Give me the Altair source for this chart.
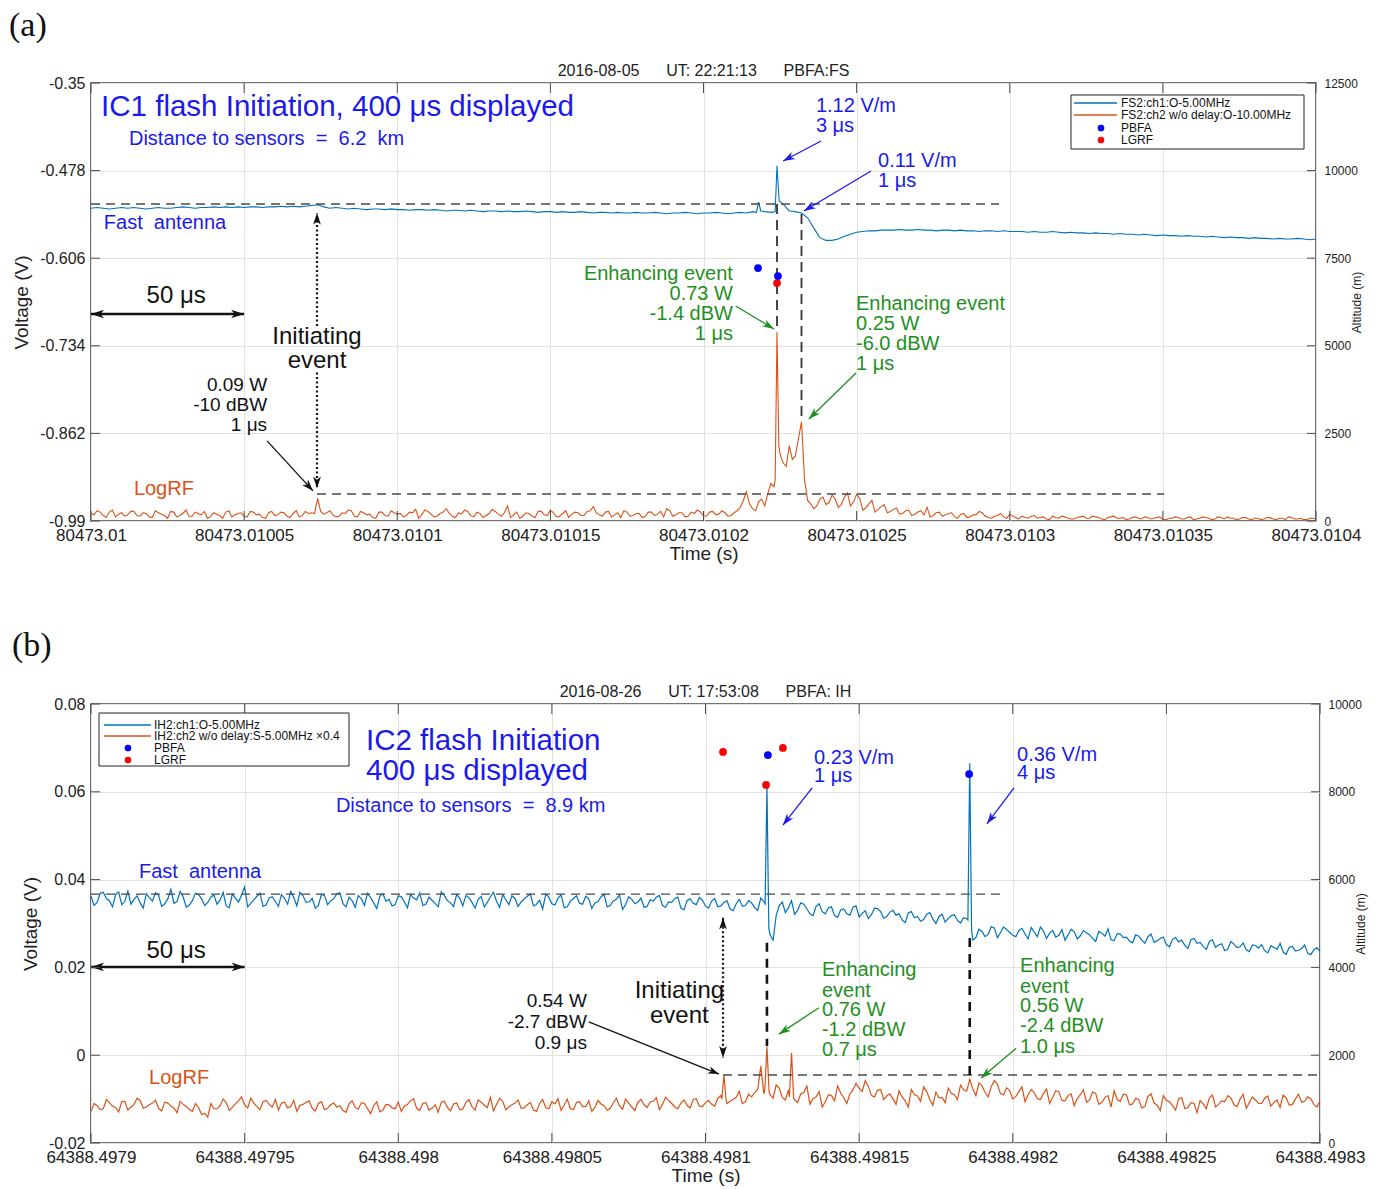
import json, math
import altair as alt
import pandas as pd

FONT = "Liberation Sans"
C_FA = "#0072BD"
C_RF = "#D95319"
C_BLUE = "#1a1aee"
C_GREEN = "#1f8f1f"
C_BLACK = "#111111"
AXC = "#222222"
FRAME = "#4a4a4a"
ARROW = "M0,0L0.6,1.8L0,1.3L-0.6,1.8Z"
NB = "\u00a0"

T_EVEN = list(range(0, 401, 2))
T_ODD = list(range(1, 400, 2))
X_TICKS = [0, 50, 100, 150, 200, 250, 300, 350, 400]

# ---------------- Panel (a) data ----------------
A_XLABELS = ["80473.01", "80473.01005", "80473.0101", "80473.01015", "80473.0102",
             "80473.01025", "80473.0103", "80473.01035", "80473.0104"]
A_VTICKS = [-0.99, -0.862, -0.734, -0.606, -0.478, -0.35]
A_ATICKS = [0, 2500, 5000, 7500, 10000, 12500]
A_FA = [
    -0.533, -0.532, -0.533, -0.534, -0.533, -0.532, -0.533, -0.532, -0.533, -0.534, -0.533,
    -0.532, -0.533, -0.533, -0.532, -0.531, -0.532, -0.533, -0.532, -0.532, -0.531,
    -0.532, -0.531, -0.532, -0.531, -0.532, -0.531, -0.531, -0.532, -0.531, -0.531,
    -0.530, -0.531, -0.530, -0.531, -0.530, -0.529, -0.528, -0.531, -0.533, -0.532,
    -0.533, -0.534, -0.533, -0.534, -0.535, -0.534, -0.534, -0.535, -0.534, -0.535,
    -0.535, -0.536, -0.535, -0.535, -0.536, -0.535, -0.536, -0.537, -0.536, -0.536,
    -0.537, -0.536, -0.537, -0.538, -0.537, -0.537, -0.538, -0.537, -0.538, -0.538,
    -0.537, -0.538, -0.539, -0.538, -0.538, -0.539, -0.538, -0.539, -0.539, -0.538,
    -0.539, -0.540, -0.539, -0.539, -0.540, -0.539, -0.540, -0.540, -0.539, -0.540,
    -0.540, -0.539, -0.540, -0.541, -0.540, -0.540, -0.539, -0.540, -0.541, -0.540,
    -0.540, -0.539, -0.540, -0.541, -0.540, -0.539, -0.540, -0.538, -0.524, -0.538,
    -0.539, -0.471, -0.527, -0.537, -0.538, -0.540, -0.547, -0.562, -0.576, -0.580,
    -0.580, -0.578, -0.574, -0.571, -0.568, -0.567, -0.566, -0.566, -0.565, -0.565,
    -0.565, -0.564, -0.565, -0.565, -0.564, -0.565, -0.565, -0.566, -0.565, -0.565,
    -0.566, -0.565, -0.566, -0.566, -0.567, -0.566, -0.566, -0.567, -0.566, -0.567,
    -0.567, -0.567, -0.568, -0.567, -0.568, -0.568, -0.567, -0.568, -0.569, -0.568,
    -0.569, -0.569, -0.570, -0.569, -0.570, -0.570, -0.571, -0.570, -0.571, -0.571,
    -0.572, -0.571, -0.572, -0.573, -0.572, -0.573, -0.573, -0.574, -0.573, -0.574,
    -0.574, -0.575, -0.574, -0.575, -0.576, -0.575, -0.576, -0.576, -0.577, -0.576,
    -0.577, -0.577, -0.578, -0.577, -0.578, -0.578, -0.577, -0.578, -0.579, -0.578,
]
A_FA_XT = [217.3, 218.7, 223.4, 224.7]
A_FA_XV = [-0.539, -0.537, -0.538, -0.522]
A_RF = [
    -0.979, -0.975, -0.982, -0.977, -0.984, -0.978, -0.981, -0.976, -0.983, -0.979, -0.985,
    -0.978, -0.982, -0.976, -0.984, -0.979, -0.983, -0.977, -0.981, -0.986, -0.978,
    -0.982, -0.977, -0.984, -0.979, -0.983, -0.976, -0.981, -0.985, -0.978, -0.982,
    -0.977, -0.983, -0.979, -0.984, -0.976, -0.978, -0.957, -0.980, -0.975, -0.984,
    -0.978, -0.974, -0.983, -0.976, -0.981, -0.985, -0.977, -0.982, -0.975, -0.980,
    -0.984, -0.977, -0.973, -0.981, -0.976, -0.984, -0.979, -0.972, -0.983, -0.978,
    -0.974, -0.982, -0.977, -0.985, -0.979, -0.976, -0.983, -0.968, -0.981, -0.986,
    -0.978, -0.983, -0.976, -0.981, -0.974, -0.984, -0.979, -0.985, -0.977, -0.982,
    -0.976, -0.969, -0.981, -0.977, -0.984, -0.978, -0.975, -0.983, -0.979, -0.985,
    -0.977, -0.982, -0.976, -0.972, -0.983, -0.978, -0.984, -0.977, -0.974, -0.982,
    -0.977, -0.981, -0.975, -0.983, -0.978, -0.970, -0.947, -0.972, -0.962, -0.968,
    -0.935, -0.714, -0.905, -0.880, -0.895, -0.845, -0.960, -0.972, -0.958, -0.966,
    -0.952, -0.970, -0.955, -0.968, -0.951, -0.974, -0.965, -0.977, -0.969, -0.978,
    -0.973, -0.980, -0.975, -0.982, -0.977, -0.981, -0.984, -0.978, -0.983, -0.979,
    -0.984, -0.980, -0.985, -0.981, -0.976, -0.983, -0.986, -0.982, -0.984, -0.980,
    -0.985, -0.983, -0.986, -0.982, -0.985, -0.987, -0.983, -0.986, -0.984, -0.987,
    -0.985, -0.983, -0.986, -0.984, -0.987, -0.985, -0.983, -0.986, -0.988, -0.985,
    -0.986, -0.984, -0.987, -0.985, -0.988, -0.986, -0.984, -0.987, -0.985, -0.988,
    -0.986, -0.985, -0.988, -0.984, -0.987, -0.986, -0.988, -0.985, -0.987, -0.986,
    -0.988, -0.985, -0.987, -0.986, -0.988, -0.985, -0.987, -0.988, -0.986, -0.987,
]
A_RF_ODD = [
    -0.981, -0.977, -0.985, -0.974, -0.980, -0.983, -0.976, -0.982, -0.978, -0.984,
    -0.975, -0.980, -0.986, -0.977, -0.982, -0.974, -0.983, -0.979, -0.976, -0.984,
    -0.980, -0.986, -0.975, -0.981, -0.978, -0.984, -0.977, -0.980, -0.986, -0.976,
    -0.981, -0.978, -0.985, -0.975, -0.982, -0.979, -0.979, -0.976, -0.978, -0.981,
    -0.983, -0.979, -0.975, -0.984, -0.978, -0.980, -0.986, -0.977, -0.983, -0.978,
    -0.979, -0.982, -0.978, -0.986, -0.974, -0.980, -0.983, -0.977, -0.979, -0.985,
    -0.980, -0.976, -0.984, -0.979, -0.982, -0.973, -0.980, -0.978, -0.985, -0.977,
    -0.983, -0.979, -0.985, -0.976, -0.982, -0.978, -0.983, -0.975, -0.980, -0.978,
    -0.982, -0.975, -0.978, -0.983, -0.976, -0.981, -0.985, -0.977, -0.982, -0.979,
    -0.983, -0.977, -0.980, -0.984, -0.975, -0.981, -0.978, -0.983, -0.979, -0.977,
    -0.983, -0.976, -0.980, -0.978, -0.982, -0.975, -0.960, -0.965, -0.975, -0.958,
    -0.950, -0.940, -0.892, -0.910, -0.900, -0.870, -0.930, -0.965, -0.968, -0.955,
    -0.963, -0.958, -0.966, -0.949, -0.962, -0.957, -0.971, -0.960, -0.973, -0.966,
    -0.976, -0.971, -0.979, -0.974, -0.980, -0.975, -0.970, -0.982, -0.977, -0.981,
    -0.978, -0.986, -0.979, -0.984, -0.981, -0.978, -0.985, -0.983, -0.979, -0.986,
    -0.983, -0.987, -0.985, -0.983, -0.986, -0.984, -0.988, -0.985, -0.983, -0.986,
    -0.987, -0.984, -0.986, -0.983, -0.985, -0.988, -0.984, -0.986, -0.985, -0.987,
    -0.984, -0.987, -0.985, -0.986, -0.984, -0.988, -0.986, -0.985, -0.987, -0.984,
    -0.987, -0.984, -0.986, -0.987, -0.985, -0.984, -0.986, -0.987, -0.985, -0.988,
    -0.986, -0.987, -0.985, -0.988, -0.986, -0.984, -0.987, -0.986, -0.988, -0.986,
]
A_RF_XT = [223.4, 224.6]
A_RF_XV = [-0.930, -0.880]
A_PT_T = [224.0, 217.8, 224.3]
A_PT_ALT = [6790, 7220, 6990]
A_PT_KIND = ["LGRF", "PBFA", "PBFA"]

# ---------------- Panel (b) data ----------------
B_XLABELS = ["64388.4979", "64388.49795", "64388.498", "64388.49805", "64388.4981",
             "64388.49815", "64388.4982", "64388.49825", "64388.4983"]
B_VTICKS = [-0.02, 0.0, 0.02, 0.04, 0.06, 0.08]
B_ATICKS = [0, 2000, 4000, 6000, 8000, 10000]
B_FA = [
    0.0362, 0.0348, 0.0371, 0.0352, 0.0366, 0.0343, 0.0374, 0.0355, 0.0347, 0.0368, 0.0351,
    0.0364, 0.0345, 0.0378, 0.0350, 0.0361, 0.0342, 0.0369, 0.0356, 0.0348, 0.0365,
    0.0353, 0.0340, 0.0367, 0.0349, 0.0383, 0.0346, 0.0362, 0.0339, 0.0358, 0.0350,
    0.0366, 0.0344, 0.0359, 0.0371, 0.0348, 0.0357, 0.0341, 0.0364, 0.0352, 0.0368,
    0.0345, 0.0360, 0.0337, 0.0356, 0.0369, 0.0347, 0.0362, 0.0351, 0.0340, 0.0363,
    0.0349, 0.0366, 0.0354, 0.0341, 0.0360, 0.0346, 0.0372, 0.0352, 0.0339, 0.0358,
    0.0364, 0.0348, 0.0355, 0.0338, 0.0361, 0.0350, 0.0366, 0.0343, 0.0357, 0.0349,
    0.0362, 0.0340, 0.0353, 0.0367, 0.0345, 0.0358, 0.0336, 0.0351, 0.0363, 0.0344,
    0.0356, 0.0347, 0.0361, 0.0338, 0.0352, 0.0365, 0.0343, 0.0355, 0.0349, 0.0337,
    0.0354, 0.0360, 0.0341, 0.0349, 0.0357, 0.0335, 0.0352, 0.0346, 0.0359, 0.0340,
    0.0351, 0.0338, 0.0348, 0.0333, 0.0345, 0.0339, 0.0352, 0.0336, 0.0358, 0.0612,
    0.0262, 0.0341, 0.0325, 0.0352, 0.0330, 0.0344, 0.0322, 0.0339, 0.0327, 0.0336,
    0.0318, 0.0331, 0.0322, 0.0337, 0.0315, 0.0329, 0.0320, 0.0334, 0.0312, 0.0326,
    0.0319, 0.0308, 0.0324, 0.0313, 0.0305, 0.0321, 0.0310, 0.0316, 0.0303, 0.0318,
    0.0307, 0.0313, 0.0665, 0.0268, 0.0282, 0.0275, 0.0290, 0.0279, 0.0286, 0.0273,
    0.0284, 0.0276, 0.0291, 0.0270, 0.0283, 0.0278, 0.0269, 0.0286, 0.0274, 0.0281,
    0.0272, 0.0279, 0.0266, 0.0282, 0.0271, 0.0263, 0.0277, 0.0268, 0.0260, 0.0274,
    0.0262, 0.0270, 0.0257, 0.0266, 0.0252, 0.0264, 0.0258, 0.0250, 0.0263, 0.0255,
    0.0248, 0.0259, 0.0246, 0.0254, 0.0242, 0.0253, 0.0247, 0.0240, 0.0251, 0.0244,
    0.0238, 0.0249, 0.0241, 0.0235, 0.0246, 0.0237, 0.0243, 0.0232, 0.0240, 0.0236,
]
B_FA_ODD = [
    0.0341, 0.0369, 0.0357, 0.0338, 0.0372, 0.0350, 0.0344, 0.0363, 0.0335, 0.0359,
    0.0370, 0.0339, 0.0356, 0.0346, 0.0373, 0.0337, 0.0352, 0.0366, 0.0341, 0.0360,
    0.0344, 0.0371, 0.0336, 0.0358, 0.0365, 0.0338, 0.0354, 0.0369, 0.0342, 0.0361,
    0.0339, 0.0357, 0.0373, 0.0340, 0.0363, 0.0349, 0.0335, 0.0366, 0.0343, 0.0356,
    0.0370, 0.0338, 0.0352, 0.0364, 0.0341, 0.0359, 0.0334, 0.0368, 0.0355, 0.0343,
    0.0361, 0.0336, 0.0358, 0.0370, 0.0344, 0.0353, 0.0338, 0.0364, 0.0347, 0.0366,
    0.0340, 0.0359, 0.0335, 0.0362, 0.0348, 0.0371, 0.0337, 0.0354, 0.0363, 0.0339,
    0.0356, 0.0367, 0.0344, 0.0333, 0.0360, 0.0342, 0.0365, 0.0338, 0.0357, 0.0346,
    0.0362, 0.0334, 0.0350, 0.0366, 0.0341, 0.0355, 0.0332, 0.0361, 0.0345, 0.0358,
    0.0339, 0.0351, 0.0364, 0.0337, 0.0348, 0.0360, 0.0331, 0.0356, 0.0343, 0.0353,
    0.0335, 0.0357, 0.0340, 0.0352, 0.0329, 0.0355, 0.0341, 0.0347, 0.0330, 0.0350,
    0.0275, 0.0318, 0.0349, 0.0336, 0.0321, 0.0347, 0.0333, 0.0318, 0.0345, 0.0322,
    0.0338, 0.0314, 0.0333, 0.0319, 0.0340, 0.0323, 0.0311, 0.0335, 0.0327, 0.0316,
    0.0330, 0.0322, 0.0302, 0.0327, 0.0316, 0.0309, 0.0325, 0.0300, 0.0321, 0.0311,
    0.0320, 0.0301, 0.0311, 0.0262, 0.0287, 0.0270, 0.0293, 0.0268, 0.0292, 0.0280,
    0.0270, 0.0289, 0.0265, 0.0280, 0.0292, 0.0266, 0.0284, 0.0273, 0.0262, 0.0287,
    0.0265, 0.0284, 0.0274, 0.0259, 0.0278, 0.0288, 0.0261, 0.0276, 0.0269, 0.0256,
    0.0271, 0.0255, 0.0276, 0.0261, 0.0269, 0.0247, 0.0268, 0.0262, 0.0243, 0.0266,
    0.0257, 0.0241, 0.0263, 0.0251, 0.0238, 0.0259, 0.0245, 0.0256, 0.0236, 0.0250,
    0.0252, 0.0233, 0.0246, 0.0255, 0.0230, 0.0248, 0.0239, 0.0251, 0.0229, 0.0245,
]
B_FA_XT = [219.4, 220.6, 285.4, 286.6]
B_FA_XV = [0.0345, 0.0290, 0.0308, 0.0285]
B_RF = [
    -0.0128, -0.0115, -0.0122, -0.0108, -0.0119, -0.0106, -0.0125, -0.0112, -0.0103, -0.0118, -0.0109,
    -0.0121, -0.0107, -0.0116, -0.0131, -0.0112, -0.0124, -0.0110, -0.0135, -0.0141, -0.0122,
    -0.0115, -0.0108, -0.0119, -0.0104, -0.0113, -0.0098, -0.0117, -0.0106, -0.0112, -0.0101,
    -0.0109, -0.0120, -0.0103, -0.0114, -0.0107, -0.0121, -0.0110, -0.0124, -0.0113, -0.0118,
    -0.0126, -0.0111, -0.0119, -0.0108, -0.0122, -0.0115, -0.0129, -0.0112, -0.0120, -0.0107,
    -0.0116, -0.0104, -0.0121, -0.0110, -0.0125, -0.0113, -0.0107, -0.0119, -0.0111, -0.0124,
    -0.0108, -0.0117, -0.0102, -0.0114, -0.0096, -0.0112, -0.0105, -0.0118, -0.0109, -0.0121,
    -0.0113, -0.0125, -0.0110, -0.0119, -0.0106, -0.0099, -0.0114, -0.0122, -0.0108, -0.0117,
    -0.0104, -0.0119, -0.0111, -0.0126, -0.0109, -0.0115, -0.0100, -0.0118, -0.0107, -0.0113,
    -0.0106, -0.0097, -0.0112, -0.0103, -0.0118, -0.0109, -0.0114, -0.0101, -0.0116, -0.0108,
    -0.0112, -0.0098, -0.0045, -0.0105, -0.0096, -0.0110, -0.0089, -0.0085, -0.0025, 0.0020,
    -0.0098, -0.0075, -0.0102, 0.0005, -0.0108, -0.0085, -0.0112, -0.0095, -0.0118, -0.0090,
    -0.0104, -0.0086, -0.0110, -0.0079, -0.0075, -0.0058, -0.0092, -0.0080, -0.0101, -0.0088,
    -0.0112, -0.0095, -0.0118, -0.0090, -0.0105, -0.0083, -0.0114, -0.0097, -0.0108, -0.0087,
    -0.0101, -0.0079, -0.0055, -0.0092, -0.0070, -0.0095, -0.0058, -0.0088, -0.0074, -0.0100,
    -0.0083, -0.0106, -0.0078, -0.0099, -0.0087, -0.0110, -0.0081, -0.0103, -0.0092, -0.0115,
    -0.0090, -0.0107, -0.0084, -0.0112, -0.0096, -0.0118, -0.0101, -0.0089, -0.0113, -0.0098,
    -0.0120, -0.0094, -0.0109, -0.0126, -0.0103, -0.0115, -0.0099, -0.0122, -0.0108, -0.0131,
    -0.0111, -0.0097, -0.0118, -0.0104, -0.0092, -0.0113, -0.0100, -0.0121, -0.0095, -0.0110,
    -0.0098, -0.0116, -0.0102, -0.0091, -0.0114, -0.0100, -0.0107, -0.0095, -0.0112, -0.0104,
]
B_RF_ODD = [
    -0.0110, -0.0124, -0.0101, -0.0116, -0.0129, -0.0105, -0.0118, -0.0098, -0.0121, -0.0113,
    -0.0102, -0.0127, -0.0109, -0.0120, -0.0105, -0.0117, -0.0128, -0.0119, -0.0132, -0.0110,
    -0.0122, -0.0100, -0.0126, -0.0111, -0.0095, -0.0120, -0.0109, -0.0124, -0.0103, -0.0118,
    -0.0125, -0.0107, -0.0117, -0.0128, -0.0112, -0.0104, -0.0127, -0.0106, -0.0121, -0.0109,
    -0.0115, -0.0130, -0.0104, -0.0123, -0.0110, -0.0133, -0.0106, -0.0125, -0.0113, -0.0122,
    -0.0128, -0.0112, -0.0099, -0.0126, -0.0108, -0.0121, -0.0130, -0.0105, -0.0127, -0.0109,
    -0.0123, -0.0101, -0.0125, -0.0107, -0.0119, -0.0127, -0.0098, -0.0124, -0.0113, -0.0102,
    -0.0120, -0.0108, -0.0128, -0.0101, -0.0122, -0.0111, -0.0126, -0.0100, -0.0124, -0.0106,
    -0.0117, -0.0128, -0.0103, -0.0115, -0.0121, -0.0098, -0.0123, -0.0109, -0.0126, -0.0101,
    -0.0119, -0.0105, -0.0124, -0.0096, -0.0110, -0.0122, -0.0102, -0.0120, -0.0099, -0.0117,
    -0.0103, -0.0116, -0.0092, -0.0110, -0.0101, -0.0082, -0.0106, -0.0095, -0.0078, -0.0088,
    -0.0090, -0.0068, -0.0096, -0.0079, -0.0101, -0.0088, -0.0070, -0.0099, -0.0083, -0.0106,
    -0.0092, -0.0070, -0.0097, -0.0088, -0.0064, -0.0083, -0.0071, -0.0095, -0.0078, -0.0093,
    -0.0099, -0.0081, -0.0104, -0.0078, -0.0093, -0.0072, -0.0101, -0.0084, -0.0096, -0.0075,
    -0.0090, -0.0068, -0.0082, -0.0077, -0.0063, -0.0085, -0.0072, -0.0066, -0.0090, -0.0081,
    -0.0094, -0.0072, -0.0090, -0.0085, -0.0101, -0.0077, -0.0096, -0.0083, -0.0104, -0.0088,
    -0.0099, -0.0079, -0.0102, -0.0087, -0.0108, -0.0092, -0.0081, -0.0105, -0.0090, -0.0111,
    -0.0101, -0.0117, -0.0088, -0.0114, -0.0092, -0.0106, -0.0125, -0.0097, -0.0119, -0.0110,
    -0.0103, -0.0122, -0.0091, -0.0112, -0.0106, -0.0098, -0.0117, -0.0089, -0.0108, -0.0102,
    -0.0110, -0.0093, -0.0108, -0.0119, -0.0097, -0.0112, -0.0089, -0.0105, -0.0099, -0.0118,
]
B_RF_XT = [205.3, 206.7, 219.3, 220.7, 227.3, 228.7]
B_RF_XV = [-0.0100, -0.0102, -0.0080, -0.0085, -0.0095, -0.0098]
B_PT_T = [205.7, 225.2, 219.7, 220.3, 285.8]
B_PT_ALT = [8907, 9000, 8155, 8838, 8405]
B_PT_KIND = ["LGRF", "LGRF", "LGRF", "PBFA", "PBFA"]


def nb(s):
    return s.replace("  ", NB + NB)


# annotation texts: (t, v, text, colour, size, align)
A_TEXTS = [
    (3.3, -0.385, "IC1 flash Initiation, 400 μs displayed", C_BLUE, 29.5, "left"),
    (12.4, -0.4318, "Distance to sensors  =  6.2  km", C_BLUE, 20, "left"),
    (4.2, -0.5546, "Fast  antenna", C_BLUE, 20, "left"),
    (14.0, -0.9432, "LogRF", C_RF, 20, "left"),
    (236.7, -0.3836, "1.12 V/m", C_BLUE, 20, "left"),
    (236.7, -0.4128, "3 μs", C_BLUE, 20, "left"),
    (257.0, -0.464, "0.11 V/m", C_BLUE, 20, "left"),
    (257.0, -0.4932, "1 μs", C_BLUE, 20, "left"),
    (209.6, -0.629, "Enhancing event", C_GREEN, 20, "right"),
    (209.6, -0.6583, "0.73 W", C_GREEN, 20, "right"),
    (209.6, -0.6875, "-1.4 dBW", C_GREEN, 20, "right"),
    (209.6, -0.7167, "1 μs", C_GREEN, 20, "right"),
    (249.8, -0.673, "Enhancing event", C_GREEN, 20, "left"),
    (249.8, -0.702, "0.25 W", C_GREEN, 20, "left"),
    (249.8, -0.7314, "-6.0 dBW", C_GREEN, 20, "left"),
    (249.8, -0.7606, "1 μs", C_GREEN, 20, "left"),
    (57.5, -0.7913, "0.09 W", C_BLACK, 19, "right"),
    (57.5, -0.8205, "-10 dBW", C_BLACK, 19, "right"),
    (57.5, -0.8497, "1 μs", C_BLACK, 19, "right"),
    (73.8, -0.7211, "Initiating", C_BLACK, 24, "center"),
    (73.8, -0.7562, "event", C_BLACK, 24, "center"),
    (27.8, -0.6612, "50 μs", C_BLACK, 24, "center"),
]
B_TEXTS = [
    (89.5, 0.0716, "IC2 flash Initiation", C_BLUE, 29.5, "left"),
    (89.5, 0.0647, "400 μs displayed", C_BLUE, 29.5, "left"),
    (79.7, 0.0568, "Distance to sensors  =  8.9 km", C_BLUE, 20, "left"),
    (15.6, 0.0417, "Fast  antenna", C_BLUE, 20, "left"),
    (18.9, -0.0052, "LogRF", C_RF, 20, "left"),
    (27.7, 0.0237, "50 μs", C_BLACK, 24, "center"),
    (191.5, 0.0146, "Initiating", C_BLACK, 24, "center"),
    (191.5, 0.0089, "event", C_BLACK, 24, "center"),
    (161.4, 0.0123, "0.54 W", C_BLACK, 19, "right"),
    (161.4, 0.0076, "-2.7 dBW", C_BLACK, 19, "right"),
    (161.4, 0.0028, "0.9 μs", C_BLACK, 19, "right"),
    (237.9, 0.0194, "Enhancing", C_GREEN, 20, "left"),
    (237.9, 0.0146, "event", C_GREEN, 20, "left"),
    (237.9, 0.0103, "0.76 W", C_GREEN, 20, "left"),
    (237.9, 0.0057, "-1.2 dBW", C_GREEN, 20, "left"),
    (237.9, 0.0012, "0.7 μs", C_GREEN, 20, "left"),
    (302.4, 0.0203, "Enhancing", C_GREEN, 20, "left"),
    (302.4, 0.0155, "event", C_GREEN, 20, "left"),
    (302.4, 0.0112, "0.56 W", C_GREEN, 20, "left"),
    (302.4, 0.0067, "-2.4 dBW", C_GREEN, 20, "left"),
    (302.4, 0.0019, "1.0 μs", C_GREEN, 20, "left"),
    (235.3, 0.0677, "0.23 V/m", C_BLUE, 20, "left"),
    (235.3, 0.0636, "1 μs", C_BLUE, 20, "left"),
    (301.4, 0.0684, "0.36 V/m", C_BLUE, 20, "left"),
    (301.4, 0.0643, "4 μs", C_BLUE, 20, "left"),
]

# dashed guide lines: (t0, v0, t1, v1, style)
A_DASHES = [
    (0, -0.5268, 296.5, -0.5268, "gray"),
    (73.8, -0.9505, 350.4, -0.9505, "gray"),
    (224.0, -0.5268, 224.0, -0.712, "dark"),
    (232.0, -0.5414, 232.0, -0.844, "dark"),
]
B_DASHES = [
    (0, 0.0367, 296.5, 0.0367, "gray"),
    (205.7, -0.0045, 400, -0.0045, "gray"),
    (220.0, 0.0256, 220.0, 0.0021, "black"),
    (286.0, 0.0267, 286.0, -0.0045, "black"),
]
DASH_STYLES = {
    "gray": dict(color="#4a4a4a", strokeDash=[9, 6], strokeWidth=1.4),
    "dark": dict(color="#333333", strokeDash=[10, 6], strokeWidth=1.8),
    "black": dict(color="#111111", strokeDash=[9, 7], strokeWidth=2.6),
}

# arrows: (t0, v0, t1, v1, colour, style, both_heads, head_size)
A_ARROWS = [
    (238.4, -0.4348, 226.0, -0.464, C_BLUE, "solid", False, 170),
    (254.7, -0.4786, 232.8, -0.537, C_BLUE, "solid", False, 170),
    (210.5, -0.6758, 223.0, -0.7095, C_GREEN, "solid", False, 170),
    (249.8, -0.7737, 234.4, -0.841, C_GREEN, "solid", False, 170),
    (57.5, -0.873, 72.5, -0.946, C_BLACK, "solid", False, 170),
    (73.8, -0.705, 73.8, -0.540, C_BLACK, "dotted", False, 170),
    (73.8, -0.773, 73.8, -0.942, C_BLACK, "dotted", False, 170),
    (0.0, -0.6875, 50.0, -0.6875, C_BLACK, "thick", True, 210),
]
B_ARROWS = [
    (162.0, 0.0076, 204.4, -0.0043, C_BLACK, "solid", False, 150),
    (236.9, 0.0108, 223.9, 0.0048, C_GREEN, "solid", False, 170),
    (301.1, 0.0016, 289.7, -0.0052, C_GREEN, "solid", False, 170),
    (234.7, 0.0609, 225.2, 0.0524, C_BLUE, "solid", False, 170),
    (300.4, 0.0609, 291.6, 0.0527, C_BLUE, "solid", False, 170),
    (205.7, 0.0313, 205.7, -0.0006, C_BLACK, "dotted", True, 170),
    (0.0, 0.0201, 50.0, 0.0201, C_BLACK, "thick", True, 210),
]
ARROW_STYLES = {
    "solid": dict(strokeWidth=1.3),
    "dotted": dict(strokeWidth=2.2, strokeDash=[2, 2.5]),
    "thick": dict(strokeWidth=2.6),
}

A_LEGEND = dict(
    box=(980, 1213, 12, 66),
    lines=[(983, 1026, 20, C_FA), (983, 1026, 32, C_RF)],
    dots=[(1010, 45, "#0000ff"), (1010, 57, "#ff0000")],
    texts=[(1030, 20, "FS2:ch1:O-5.00MHz"), (1030, 32, "FS2:ch2 w/o delay:O-10.00MHz"),
           (1030, 45, "PBFA"), (1030, 57, "LGRF")],
)
B_LEGEND = dict(
    box=(8, 258, 9, 62),
    lines=[(13, 60, 21, C_FA), (13, 60, 32, C_RF)],
    dots=[(37, 44, "#0000ff"), (37, 56, "#ff0000")],
    texts=[(63, 21, "IH2:ch1:O-5.00MHz"), (63, 32, "IH2:ch2 w/o delay:S-5.00MHz ×0.4"),
           (63, 44, "PBFA"), (63, 56, "LGRF")],
)


def line_df(even, odd, xt, xv):
    assert len(even) == len(T_EVEN), len(even)
    rows = list(zip(T_EVEN, even)) + list(zip(xt, xv))
    if odd is not None:
        assert len(odd) == len(T_ODD), len(odd)
        rows += list(zip(T_ODD, odd))
    rows.sort()
    return pd.DataFrame(rows, columns=["t", "v"])


def panel(W, H, vdom, vticks, vfmt, adom, aticks, xlabels, title, letter, letter_xy,
          fa, rf, pts, dashes, arrows, texts, legend, lw):
    xs = alt.Scale(domain=[0, 400], nice=False, zero=False)
    vs = alt.Scale(domain=vdom, nice=False, zero=False)
    ascl = alt.Scale(domain=adom, nice=False, zero=False)
    vspan = vdom[1] - vdom[0]

    xaxis = alt.Axis(values=X_TICKS, labelExpr=json.dumps(xlabels) + "[round(datum.value / 50)]",
                     title="Time (s)", grid=True, ticks=False, domain=False, labelFlush=False,
                     labelOverlap=False, labelFontSize=17, titleFontSize=19, labelPadding=6,
                     titlePadding=1)
    yaxis = alt.Axis(values=vticks, format=vfmt, labelExpr="replace(datum.label, '\u2212', '-')",
                     title="Voltage (V)", grid=True, ticks=False,
                     domain=False, labelFlush=False, labelOverlap=False, labelFontSize=16,
                     titleFontSize=19, labelPadding=6, titlePadding=8)
    raxis = alt.Axis(orient="right", values=aticks, format="d", title="Altitude (m)", grid=False,
                     ticks=False, domain=False, labelFlush=False, labelOverlap=False,
                     labelFontSize=12, titleFontSize=12, labelPadding=8, titlePadding=6,
                     titleAngle=270)

    X = lambda f: alt.X(f, scale=xs, axis=xaxis)
    Y = lambda f: alt.Y(f, scale=vs, axis=yaxis)

    rf_l = alt.Chart(rf).mark_line(color=C_RF, strokeWidth=lw).encode(x=X("t:Q"), y=Y("v:Q"))
    fa_l = alt.Chart(fa).mark_line(color=C_FA, strokeWidth=lw).encode(x=X("t:Q"), y=Y("v:Q"))

    layers = [rf_l, fa_l]
    ddf = pd.DataFrame(dashes, columns=["t0", "v0", "t1", "v1", "st"])
    for st, sty in DASH_STYLES.items():
        sub = ddf[ddf.st == st]
        if len(sub):
            layers.append(alt.Chart(sub).mark_rule(**sty).encode(
                x=X("t0:Q"), x2="t1:Q", y=Y("v0:Q"), y2="v1:Q"))

    adf = pd.DataFrame(arrows, columns=["t0", "v0", "t1", "v1", "c", "st", "both", "s"])
    for st, sty in ARROW_STYLES.items():
        sub = adf[adf.st == st]
        if len(sub):
            layers.append(alt.Chart(sub).mark_rule(**sty).encode(
                x=X("t0:Q"), x2="t1:Q", y=Y("v0:Q"), y2="v1:Q",
                color=alt.Color("c:N", scale=None)))
    heads = []
    for (t0, v0, t1, v1, c, st, both, s) in arrows:
        dx = (t1 - t0) * W / 400.0
        dy = -(v1 - v0) * H / vspan
        ang = math.degrees(math.atan2(dx, -dy)) % 360
        heads.append(dict(t=t1, v=v1, ang=ang, c=c, s=s))
        if both:
            heads.append(dict(t=t0, v=v0, ang=(ang + 180) % 360, c=c, s=s))
    layers.append(alt.Chart(pd.DataFrame(heads)).mark_point(
        shape=ARROW, filled=True, opacity=1, strokeWidth=0).encode(
        x=X("t:Q"), y=Y("v:Q"), angle=alt.Angle("ang:Q", scale=None),
        color=alt.Color("c:N", scale=None), size=alt.Size("s:Q", scale=None)))

    tdf = pd.DataFrame(texts, columns=["t", "v", "txt", "c", "z", "al"])
    tdf["txt"] = tdf["txt"].map(nb)
    for al in ["left", "center", "right"]:
        sub = tdf[tdf.al == al]
        if len(sub):
            layers.append(alt.Chart(sub).mark_text(align=al, baseline="middle", font=FONT).encode(
                x=X("t:Q"), y=Y("v:Q"), text="txt:N", color=alt.Color("c:N", scale=None),
                size=alt.Size("z:Q", scale=None)))

    # inward ticks
    layers.append(alt.Chart(pd.DataFrame({"v": vticks})).mark_rule(color=FRAME).encode(
        y=Y("v:Q"), x=alt.value(0), x2=alt.value(9)))
    xt = pd.DataFrame({"t": X_TICKS})
    layers.append(alt.Chart(xt).mark_rule(color=FRAME).encode(
        x=X("t:Q"), y=alt.value(H - 10), y2=alt.value(H)))
    layers.append(alt.Chart(xt).mark_rule(color=FRAME).encode(
        x=X("t:Q"), y=alt.value(0), y2=alt.value(10)))

    one = pd.DataFrame({"k": [0]})
    bx0, bx1, by0, by1 = legend["box"]
    layers.append(alt.Chart(one).mark_rect(fill="white", stroke=AXC, strokeWidth=1).encode(
        x=alt.value(bx0), x2=alt.value(bx1), y=alt.value(by0), y2=alt.value(by1)))
    for (x0, x1, y, c) in legend["lines"]:
        layers.append(alt.Chart(one).mark_rule(color=c, strokeWidth=1.6).encode(
            x=alt.value(x0), x2=alt.value(x1), y=alt.value(y)))
    for (x, y, c) in legend["dots"]:
        layers.append(alt.Chart(one).mark_circle(color=c, size=45, opacity=1).encode(
            x=alt.value(x), y=alt.value(y)))
    for (x, y, s) in legend["texts"]:
        layers.append(alt.Chart(one).mark_text(text=s, align="left", baseline="middle", font=FONT,
                                               fontSize=12, color=C_BLACK).encode(
            x=alt.value(x), y=alt.value(y)))
    layers.append(alt.Chart(one).mark_text(text=letter, align="left", baseline="middle",
                                           font="Liberation Serif", fontSize=34,
                                           color=C_BLACK).encode(
        x=alt.value(letter_xy[0]), y=alt.value(letter_xy[1])))
    layers.append(alt.Chart(one).mark_text(text=title, align="center", baseline="middle",
                                           font=FONT, fontSize=16, color=AXC).encode(
        x=alt.value(W / 2), y=alt.value(-12)))

    vol = alt.layer(*layers)

    pts_l = alt.Chart(pts).mark_circle(size=60, opacity=1).encode(
        x=X("t:Q"), y=alt.Y("a:Q", scale=ascl, axis=raxis),
        color=alt.Color("kind:N", scale=alt.Scale(domain=["PBFA", "LGRF"],
                                                 range=["#0000ff", "#ff0000"]), legend=None))
    rt = alt.Chart(pd.DataFrame({"a": aticks})).mark_rule(color=FRAME).encode(
        y=alt.Y("a:Q", scale=ascl, axis=raxis), x=alt.value(W - 9), x2=alt.value(W))
    altl = alt.layer(pts_l, rt)

    return alt.layer(vol, altl).resolve_scale(y="independent").properties(width=W, height=H)


pa = panel(1225, 438, [-0.99, -0.35], A_VTICKS, ".3~f", [0, 12500], A_ATICKS, A_XLABELS,
           "2016-08-05" + NB * 6 + "UT: 22:21:13" + NB * 6 + "PBFA:FS", "(a)", (-82, -57),
           line_df(A_FA, None, A_FA_XT, A_FA_XV), line_df(A_RF, A_RF_ODD, A_RF_XT, A_RF_XV),
           pd.DataFrame({"t": A_PT_T, "a": A_PT_ALT, "kind": A_PT_KIND}),
           A_DASHES, A_ARROWS, A_TEXTS, A_LEGEND, 1.1)
pb = panel(1229, 439, [-0.02, 0.08], B_VTICKS, ".2~f", [0, 10000], B_ATICKS, B_XLABELS,
           "2016-08-26" + NB * 6 + "UT: 17:53:08" + NB * 6 + "PBFA: IH", "(b)", (-79, -58),
           line_df(B_FA, B_FA_ODD, B_FA_XT, B_FA_XV), line_df(B_RF, B_RF_ODD, B_RF_XT, B_RF_XV),
           pd.DataFrame({"t": B_PT_T, "a": B_PT_ALT, "kind": B_PT_KIND}),
           B_DASHES, B_ARROWS, B_TEXTS, B_LEGEND, 1.2)

chart = alt.vconcat(pa, pb, spacing=64).properties(
    padding={"left": 8, "top": 8, "right": 5, "bottom": 0}, background="white"
).configure_view(stroke=FRAME, strokeWidth=1.6).configure_axis(
    labelFont=FONT, titleFont=FONT, labelColor=AXC, titleColor=AXC, titleFontWeight="normal",
    gridColor="#e2e2e2", gridWidth=1)

chart.save("out.html", embed_options={"renderer": "svg", "actions": False})
